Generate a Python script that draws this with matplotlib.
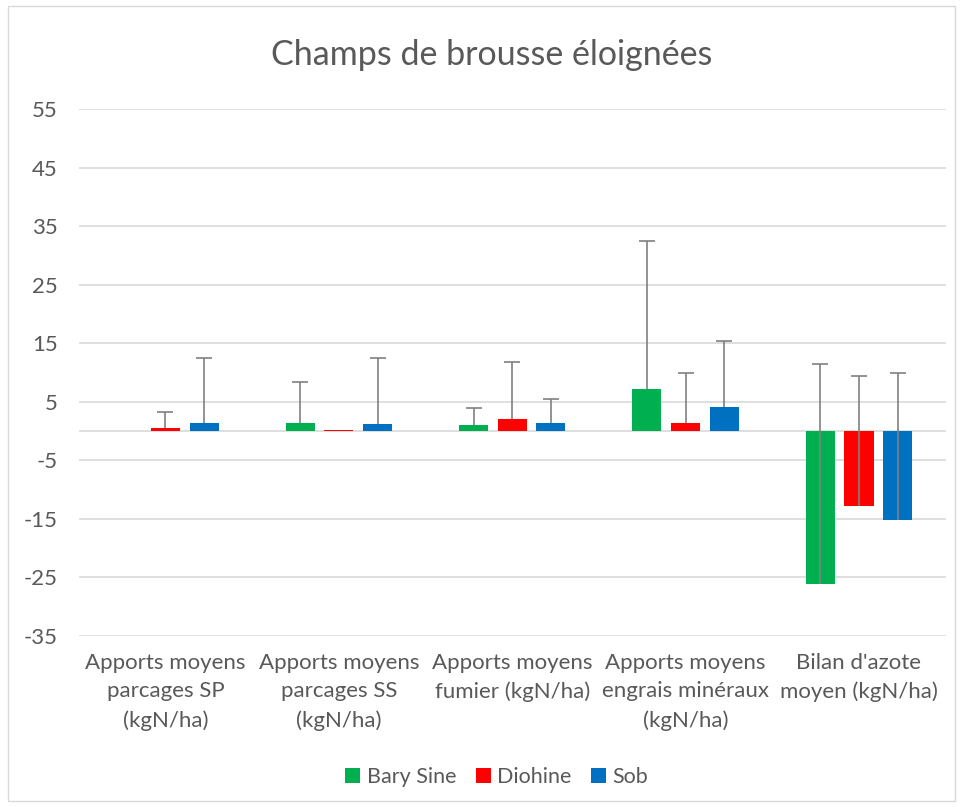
import numpy as np
import matplotlib.pyplot as plt
from matplotlib.patches import Rectangle

plt.rcParams['font.family'] = ['Lato', 'DejaVu Sans']

# categories and series
categories = ["Apports moyens\nparcages SP\n(kgN/ha)",
              "Apports moyens\nparcages SS\n(kgN/ha)",
              "Apports moyens\nfumier (kgN/ha)",
              "Apports moyens\nengrais minéraux\n(kgN/ha)",
              "Bilan d'azote\nmoyen (kgN/ha)"]
series_names = ["Bary Sine", "Diohine", "Sob"]

bary_sine = [0.0, 1.4, 1.0, 7.1, -26.1]
diohine = [0.45, 0.2, 2.05, 1.4, -12.8]
sob = [1.4, 1.15, 1.4, 4.05, -15.2]

# plus-only error bars
bary_sine_err = [0.0, 6.9, 3.0, 25.3, 37.5]
diohine_err = [2.8, 0.0, 9.75, 8.45, 22.25]
sob_err = [11.1, 11.35, 4.1, 11.25, 25.05]

colors = ["#00B050", "#FF0000", "#0070C0"]
yticks = np.arange(-35, 56, 10)

fig = plt.figure(figsize=(9.63, 8.07), dpi=100)
ax = fig.add_axes([0.0818, 0.2119, 0.9002, 0.6531])

x = np.arange(len(categories))
offset = 0.223
width = 0.168
all_vals = [bary_sine, diohine, sob]
all_errs = [bary_sine_err, diohine_err, sob_err]

handles = []
for i, (vals, errs) in enumerate(zip(all_vals, all_errs)):
    pos = x + (i - 1) * offset
    vals = np.array(vals)
    errs = np.array(errs)
    b = ax.bar(pos, vals, width, color=colors[i], label=series_names[i], zorder=2)
    handles.append(b)
    show = errs > 0
    ax.vlines(pos[show], vals[show], vals[show] + errs[show], color="#808080", lw=1.2, zorder=3)
    ax.plot(pos[show], vals[show] + errs[show], ls="none", marker="_", ms=12, mew=1.2,
            color="#808080", zorder=3)

ax.set_xlim(-0.5, len(categories) - 0.5)
ax.set_ylim(-35, 55)
ax.set_yticks(yticks)
ax.set_yticklabels([str(v) for v in yticks])
ax.set_xticks(x)
ax.set_xticklabels(categories, fontsize=16, color="#595959", linespacing=1.55, va="top")
ax.tick_params(axis="y", length=0, pad=15, labelsize=16, labelcolor="#595959")
ax.tick_params(axis="x", length=0, pad=12)
ax.grid(axis="y", color="#D9D9D9", lw=1.2, zorder=0)
ax.axhline(0, color="#D9D9D9", lw=1.2, zorder=1)
for s in ax.spines.values():
    s.set_visible(False)

fig.text(0.511, 1 - 55 / 807, "Champs de brousse éloignées", ha="center", va="center",
         fontsize=24.5, color="#595959")

leg = fig.legend(handles=handles, loc="center", bbox_to_anchor=(0.516, 1 - 777 / 807), ncol=3,
                 frameon=False, fontsize=15.5, handlelength=0.7, handleheight=0.7,
                 handletextpad=0.3, columnspacing=0.9)
for t in leg.get_texts():
    t.set_color("#595959")

fig.patches.append(Rectangle((0.008, 0.008), 0.984, 0.984, transform=fig.transFigure,
                             fill=False, edgecolor="#D9D9D9", lw=1))

fig.savefig("out.png", dpi=100)
